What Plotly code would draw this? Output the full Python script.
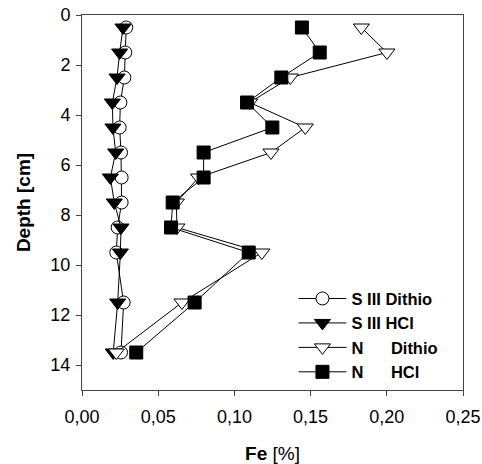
import plotly.graph_objects as go

depth = [0.5, 1.5, 2.5, 3.5, 4.5, 5.5, 6.5, 7.5, 8.5, 9.5, 11.5, 13.5]
s3_dithio = [0.029, 0.0284, 0.0278, 0.0252, 0.0247, 0.0256, 0.026, 0.026, 0.0234, 0.0225, 0.0273, 0.0256]
s3_hcl = [0.0269, 0.0247, 0.023, 0.0199, 0.0203, 0.0221, 0.0186, 0.0212, 0.0256, 0.0252, 0.0234, 0.0205]
n_dithio = [0.1833, 0.2001, 0.1367, 0.110, 0.1465, 0.124, 0.0765, 0.0619, 0.0623, 0.118, 0.0656, 0.0225]
n_hcl = [0.1443, 0.156, 0.1308, 0.1083, 0.1249, 0.0798, 0.0798, 0.0595, 0.0584, 0.1094, 0.0739, 0.0356]

x_tickvals = [0, 0.05, 0.10, 0.15, 0.20, 0.25]
x_ticktext = ["0,00", "0,05", "0,10", "0,15", "0,20", "0,25"]
y_tickvals = [0, 2, 4, 6, 8, 10, 12, 14]

names = ["S III Dithio", "S III HCl", "N\u00a0\u00a0\u00a0\u00a0\u00a0\u00a0Dithio", "N\u00a0\u00a0\u00a0\u00a0\u00a0\u00a0HCl"]
series = [s3_dithio, s3_hcl, n_dithio, n_hcl]
symbols = ["circle", "triangle-down", "triangle-down", "square"]
fills = ["white", "black", "white", "black"]
sizes = [13, 14, 14, 13]

fig = go.Figure()
for nm, xs, sym, fc, sz in zip(names, series, symbols, fills, sizes):
    fig.add_trace(go.Scatter(
        x=xs, y=depth, mode="lines+markers", name=nm,
        line=dict(color="black", width=1),
        marker=dict(symbol=sym, size=sz, color=fc, line=dict(color="black", width=1)),
    ))

font = "Liberation Sans, Arial, sans-serif"
fig.update_layout(
    width=482, height=464,
    margin=dict(l=82, r=19, t=15, b=74),
    plot_bgcolor="white", paper_bgcolor="white",
    font=dict(family=font, size=18, color="black"),
    showlegend=True,
    legend=dict(x=0.555, y=0.29, xanchor="left", yanchor="top",
                font=dict(family=font, size=16.5, color="black", weight="bold"),
                bgcolor="rgba(0,0,0,0)", tracegroupgap=0, itemwidth=48),
    xaxis=dict(range=[0, 0.25], tickvals=x_tickvals, ticktext=x_ticktext, automargin=False,
               ticks="outside", ticklen=5, tickcolor="#444", showgrid=False, zeroline=False,
               showline=True, linecolor="#444", linewidth=1, mirror=True,
               ticklabelstandoff=5,
               title=dict(text="<b>Fe</b> [%]", font=dict(size=19), standoff=22),
               tickfont=dict(size=18)),
    yaxis=dict(range=[15, 0], tickvals=y_tickvals, automargin=False,
               ticks="outside", ticklen=5, tickcolor="#444", showgrid=False, zeroline=False,
               showline=True, linecolor="#444", linewidth=1, mirror=True,
               ticklabelstandoff=2,
               title=dict(text="<b>Depth [cm]</b>", font=dict(size=19), standoff=14),
               tickfont=dict(size=18)),
)
fig.write_html("out.html")
